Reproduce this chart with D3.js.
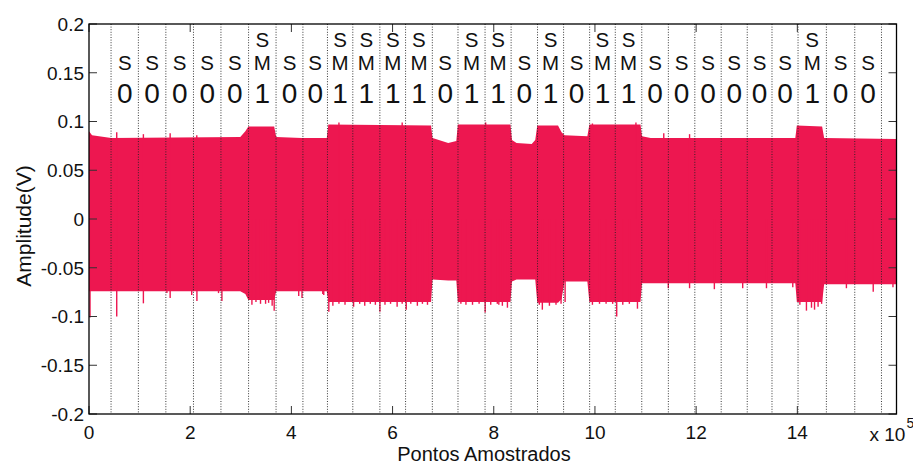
<!DOCTYPE html>
<html><head><meta charset="utf-8">
<script src="https://cdn.jsdelivr.net/npm/d3@7"></script>
<style>body{margin:0;background:#fff}svg{display:block}text{font-family:"Liberation Sans",Arial,Helvetica,sans-serif;fill:#111}</style>
</head><body><svg id="c" width="913" height="464"></svg>
<script>
// ---- data (x in units of 1e5 samples, y in volts) ----
const xTicks = [0, 2, 4, 6, 8, 10, 12, 14];
const yTicks = [-0.2, -0.15, -0.1, -0.05, 0, 0.05, 0.1, 0.15, 0.2];
const yTickLabels = ["-0.2", "-0.15", "-0.1", "-0.05", "0", "0.05", "0.1", "0.15", "0.2"];
const boundaries = [0.436, 0.976, 1.519, 2.065, 2.608, 3.154, 3.697, 4.228, 4.713, 5.214,
  5.749, 6.257, 6.786, 7.293, 7.828, 8.343, 8.865, 9.380, 9.895, 10.402,
  10.925, 11.451, 11.974, 12.495, 13.010, 13.499, 14.014, 14.574, 15.135, 15.663];
const bits = [0,0,0,0,0,1,0,0,1,1,1,1,0,1,1,0,1,0,1,1,0,0,0,0,0,0,1,0,0];
// signal envelope
const envX  = [0.00, 0.06, 0.44, 2.99, 3.09, 3.15, 3.66, 3.70, 4.20, 4.70, 4.73, 6.76, 6.79, 7.10, 7.26, 7.29,
  8.33, 8.36, 8.45, 8.75, 8.82, 8.86, 9.27, 9.34, 9.40, 9.85, 9.89, 10.90, 10.93, 11.10, 13.96, 13.99,
  14.49, 14.53, 15.96];
const envHi = [0.090, 0.086, 0.083, 0.084, 0.090, 0.095, 0.095, 0.084, 0.083, 0.083, 0.097, 0.096, 0.083, 0.078, 0.080, 0.097,
  0.097, 0.081, 0.078, 0.077, 0.081, 0.096, 0.096, 0.089, 0.086, 0.085, 0.097, 0.097, 0.085, 0.083, 0.083, 0.096,
  0.095, 0.083, 0.082];
const envLo = [-0.074, -0.074, -0.074, -0.074, -0.077, -0.083, -0.083, -0.074, -0.074, -0.074, -0.085, -0.085, -0.062, -0.063, -0.063, -0.085,
  -0.085, -0.064, -0.062, -0.062, -0.062, -0.086, -0.086, -0.082, -0.064, -0.064, -0.085, -0.085, -0.066, -0.066, -0.066, -0.085,
  -0.085, -0.067, -0.067];
// downward spikes
const spikeLoX = [0.02, 0.548, 1.075, 1.54, 1.604, 2.03, 2.133, 2.56, 2.627, 4.145, 4.21, 4.62, 4.64,
  3.22, 3.30, 3.39, 3.49, 3.55, 3.62, 3.66,
  4.74, 4.82, 4.94, 5.06, 5.15, 5.23, 5.35, 5.45, 5.56, 5.66, 5.75, 5.85, 5.96, 6.09, 6.19, 6.27, 6.36, 6.49, 6.59, 6.69,
  7.35, 7.45, 7.58, 7.71, 7.83, 7.94, 8.07, 8.10, 8.17, 8.27,
  8.90, 8.96, 9.10, 9.23, 9.33, 9.41,
  9.95, 10.09, 10.22, 10.35, 10.43, 10.55, 10.68, 10.84,
  11.45, 11.87, 12.36, 12.92, 13.39, 13.91,
  14.05, 14.18, 14.28, 14.34, 14.41, 14.48,
  14.97, 15.50, 15.89];
const spikeLoY = [-0.101, -0.100, -0.0865, -0.076, -0.081, -0.078, -0.084, -0.076, -0.084, -0.079, -0.081, -0.077, -0.078,
  -0.088, -0.085, -0.087, -0.087, -0.086, -0.089, -0.094,
  -0.095, -0.089, -0.087, -0.088, -0.085, -0.090, -0.087, -0.089, -0.087, -0.088, -0.095, -0.088, -0.087, -0.090, -0.087, -0.093, -0.087, -0.089, -0.087, -0.088,
  -0.087, -0.088, -0.088, -0.087, -0.096, -0.088, -0.087, -0.088, -0.089, -0.091,
  -0.088, -0.093, -0.089, -0.088, -0.087, -0.085,
  -0.088, -0.087, -0.087, -0.087, -0.100, -0.088, -0.087, -0.092,
  -0.071, -0.071, -0.072, -0.071, -0.071, -0.070,
  -0.088, -0.094, -0.091, -0.093, -0.090, -0.087,
  -0.071, -0.0746, -0.070];
// upward spikes
const spikeHiX = [0.548, 1.075, 1.604, 2.13, 4.94, 6.19, 7.84, 9.95, 10.81, 11.36, 11.87];
const spikeHiY = [0.089, 0.087, 0.088, 0.086, 0.099, 0.099, 0.099, 0.098, 0.099, 0.088, 0.087];

// ---- drawing ----
const svg = d3.select("#c");
const L = 89, R = 896.5, T = 24, B = 414;
const x = d3.scaleLinear().domain([0, 15.96]).range([L, R]);
const y = d3.scaleLinear().domain([-0.2, 0.2]).range([B, T]);
const red = "#ED1750";

const env = envX.map((v, i) => ({x: v, hi: envHi[i], lo: envLo[i]}));
svg.append("path").datum(env)
  .attr("fill", red)
  .attr("d", d3.area().x(d => x(d.x)).y0(d => y(d.lo)).y1(d => y(d.hi)));

svg.append("g").selectAll("line").data(spikeLoX.map((v, i) => [v, spikeLoY[i]])).join("line")
  .attr("x1", d => x(d[0])).attr("x2", d => x(d[0]))
  .attr("y1", y(0)).attr("y2", d => y(d[1]))
  .attr("stroke", red).attr("stroke-width", 1.4);
svg.append("g").selectAll("line").data(spikeHiX.map((v, i) => [v, spikeHiY[i]])).join("line")
  .attr("x1", d => x(d[0])).attr("x2", d => x(d[0]))
  .attr("y1", y(0)).attr("y2", d => y(d[1]))
  .attr("stroke", red).attr("stroke-width", 1.4);

// dotted boundaries
svg.append("g").selectAll("line").data(boundaries).join("line")
  .attr("x1", d => x(d)).attr("x2", d => x(d))
  .attr("y1", T).attr("y2", B)
  .attr("stroke", "#222").attr("stroke-width", 0.9).attr("stroke-dasharray", "1,1.6");

// labels: S / M stacked above the bit
const centers = bits.map((b, i) => ({b, c: (boundaries[i] + boundaries[i + 1]) / 2}));
const lab = svg.append("g").attr("text-anchor", "middle");
centers.forEach(d => {
  if (d.b === 1) {
    lab.append("text").attr("x", x(d.c)).attr("y", 47).attr("font-size", 20.5).text("S");
    lab.append("text").attr("x", x(d.c)).attr("y", 70).attr("font-size", 20.5).text("M");
  } else {
    lab.append("text").attr("x", x(d.c)).attr("y", 70).attr("font-size", 20.5).text("S");
  }
  lab.append("text").attr("x", x(d.c)).attr("y", 103).attr("font-size", 28).text(String(d.b));
});

// axes box and ticks
const tk = 8;
const ax = svg.append("g").attr("stroke", "#333").attr("stroke-width", 1);
xTicks.forEach(t => {
  ax.append("line").attr("x1", x(t)).attr("x2", x(t)).attr("y1", B).attr("y2", B - tk);
  ax.append("line").attr("x1", x(t)).attr("x2", x(t)).attr("y1", T).attr("y2", T + tk);
});
yTicks.forEach(t => {
  ax.append("line").attr("x1", L).attr("x2", L + tk).attr("y1", y(t)).attr("y2", y(t));
  ax.append("line").attr("x1", R).attr("x2", R - tk).attr("y1", y(t)).attr("y2", y(t));
});
svg.append("rect").attr("x", L).attr("y", T).attr("width", R - L).attr("height", B - T)
  .attr("fill", "none").attr("stroke", "#000").attr("stroke-width", 1.3);

const tl = svg.append("g").attr("font-size", 19);
xTicks.forEach(t => tl.append("text").attr("x", x(t)).attr("y", 438.5).attr("text-anchor", "middle").text(String(t)));
yTicks.forEach((t, i) => tl.append("text").attr("x", 84).attr("y", y(t) + 6.8).attr("text-anchor", "end").text(yTickLabels[i]));

svg.append("text").attr("x", 869.5).attr("y", 441).attr("font-size", 19).text("x 10");
svg.append("text").attr("x", 906.5).attr("y", 428).attr("font-size", 14).text("5");

svg.append("text").attr("x", 484).attr("y", 461).attr("font-size", 20).attr("text-anchor", "middle").text("Pontos Amostrados");
svg.append("text").attr("transform", "translate(31,226) rotate(-90)").attr("font-size", 21)
  .attr("text-anchor", "middle").text("Amplitude(V)");
</script></body></html>
